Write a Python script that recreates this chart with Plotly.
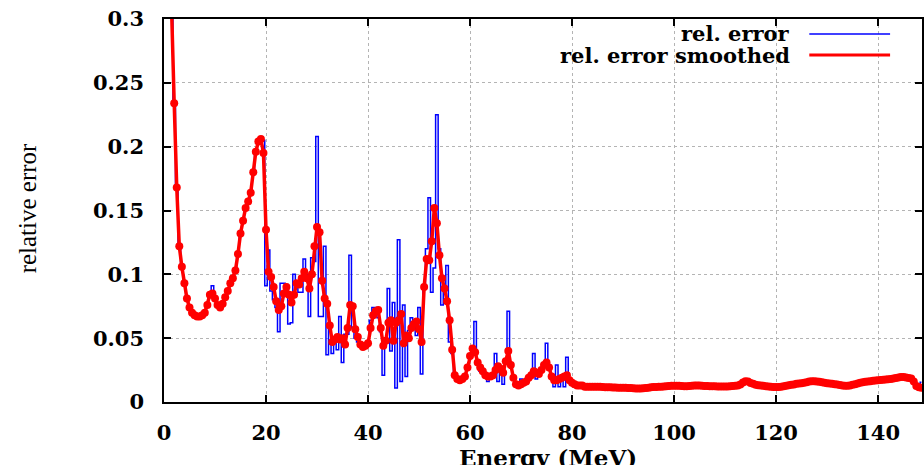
import numpy as np
import plotly.graph_objects as go

# Energy grid (MeV), bin centres every 0.5 MeV
energy = np.arange(0.5, 148.75, 0.5)

# relative error smoothed (red), per 10 MeV segment
red_000 = [0.45, 0.37, 0.31, 0.234, 0.168, 0.122, 0.106, 0.093, 0.081, 0.074,
           0.070, 0.068, 0.067, 0.067, 0.068, 0.070, 0.076, 0.084, 0.085, 0.081]
red_010 = [0.076, 0.074, 0.077, 0.082, 0.087, 0.093, 0.097, 0.103, 0.116, 0.132,
           0.142, 0.152, 0.157, 0.164, 0.180, 0.196, 0.204, 0.206, 0.195, 0.135]
red_020 = [0.102, 0.098, 0.090, 0.079, 0.072, 0.075, 0.085, 0.090, 0.084, 0.078,
           0.084, 0.093, 0.092, 0.097, 0.102, 0.097, 0.089, 0.100, 0.122, 0.137]
red_030 = [0.133, 0.095, 0.081, 0.077, 0.060, 0.047, 0.049, 0.051, 0.049, 0.050,
           0.045, 0.058, 0.076, 0.075, 0.057, 0.051, 0.045, 0.043, 0.044, 0.046]
red_040 = [0.058, 0.068, 0.071, 0.072, 0.058, 0.044, 0.048, 0.062, 0.064, 0.048,
           0.062, 0.064, 0.069, 0.046, 0.052, 0.050, 0.058, 0.061, 0.063, 0.057]
red_050 = [0.047, 0.090, 0.112, 0.111, 0.126, 0.152, 0.140, 0.115, 0.097, 0.089,
           0.079, 0.064, 0.041, 0.021, 0.018, 0.017, 0.018, 0.020, 0.027, 0.036]
red_060 = [0.042, 0.039, 0.031, 0.027, 0.024, 0.021, 0.020, 0.020, 0.021, 0.025,
           0.028, 0.026, 0.023, 0.032, 0.040, 0.029, 0.019, 0.014, 0.013, 0.014]
red_070 = [0.015, 0.016, 0.019, 0.021, 0.024, 0.023, 0.022, 0.025, 0.029, 0.031,
           0.027, 0.020, 0.017, 0.017, 0.018, 0.019, 0.020, 0.021, 0.017, 0.015]
red_080 = [0.014, 0.013, 0.013, 0.013, 0.012, 0.012, 0.012, 0.012, 0.012, 0.012,
           0.012, 0.0118, 0.0116, 0.0115, 0.0115, 0.0114, 0.0113, 0.0112, 0.0112, 0.0112]
red_090 = [0.0111, 0.0110, 0.0109, 0.0108, 0.0106, 0.0105, 0.0105, 0.0107, 0.0110, 0.0112,
           0.0115, 0.0117, 0.0118, 0.0119, 0.0120, 0.0122, 0.0124, 0.0126, 0.0127, 0.0128]
red_100 = [0.0128, 0.0127, 0.0125, 0.0123, 0.0123, 0.0125, 0.0128, 0.0130, 0.0130, 0.0129,
           0.0127, 0.0126, 0.0125, 0.0124, 0.0123, 0.0123, 0.0122, 0.0122, 0.0122, 0.0122]
red_110 = [0.0122, 0.0124, 0.0125, 0.0127, 0.0130, 0.0138, 0.0152, 0.0162, 0.0160, 0.0148,
           0.0142, 0.0136, 0.0132, 0.0130, 0.0127, 0.0124, 0.0122, 0.0120, 0.0118, 0.0118]
red_120 = [0.0118, 0.0120, 0.0124, 0.0128, 0.0132, 0.0135, 0.0138, 0.0142, 0.0144, 0.0146,
           0.0150, 0.0155, 0.0160, 0.0162, 0.0162, 0.0160, 0.0158, 0.0155, 0.0150, 0.0147]
red_130 = [0.0144, 0.0142, 0.0140, 0.0137, 0.0134, 0.0130, 0.0128, 0.0128, 0.0130, 0.0135,
           0.0140, 0.0145, 0.0150, 0.0155, 0.0158, 0.0160, 0.0163, 0.0166, 0.0168, 0.0170]
red_140 = [0.0172, 0.0174, 0.0176, 0.0178, 0.0180, 0.0184, 0.0188, 0.0192, 0.0196, 0.0196,
           0.0192, 0.0188, 0.0184, 0.0160, 0.0125, 0.0115, 0.0112]

# relative error (blue histogram) where it departs from the smoothed curve
blue_020 = [0.119, 0.087, 0.080, 0.074, 0.055, 0.093, 0.093, 0.092, 0.061, 0.062,
            0.100, 0.090, 0.086, 0.086, 0.112, 0.100, 0.067, 0.113, 0.110, 0.208]
blue_030 = [0.067, 0.067, 0.122, 0.037, 0.061, 0.038, 0.051, 0.041, 0.067, 0.031,
            0.053, 0.053, 0.115, 0.058, 0.050, 0.047, 0.044, 0.042, 0.044, 0.045]
blue_040 = [0.064, 0.074, 0.074, 0.066, 0.055, 0.021, 0.050, 0.089, 0.040, 0.078,
            0.011, 0.127, 0.016, 0.076, 0.020, 0.056, 0.066, 0.060, 0.052, 0.074]
blue_050 = [0.022, 0.090, 0.120, 0.160, 0.086, 0.105, 0.225, 0.120, 0.076, 0.090,
            0.107, 0.047, 0.038, 0.020, 0.018, 0.017, 0.018, 0.020, 0.027, 0.036]
blue_060 = [0.042, 0.063, 0.033, 0.024, 0.024, 0.020, 0.016, 0.018, 0.021, 0.038,
            0.016, 0.025, 0.014, 0.033, 0.071, 0.030, 0.018, 0.014, 0.014, 0.018]
blue_070 = [0.015, 0.016, 0.019, 0.021, 0.038, 0.018, 0.022, 0.025, 0.030, 0.046,
            0.026, 0.020, 0.012, 0.029, 0.012, 0.019, 0.012, 0.035, 0.017, 0.015]
blue_other = {9.5: 0.091, 19.0: 0.205, 19.5: 0.205, 20.0: 0.091,
              114.0: 0.018, 114.5: 0.018, 127.0: 0.017, 127.5: 0.017, 148.5: 0.0154}

x_ticks = [0, 20, 40, 60, 80, 100, 120, 140]
y_ticks = [0, 0.05, 0.1, 0.15, 0.2, 0.25, 0.3]
y_tick_text = ["0", "0.05", "0.1", "0.15", "0.2", "0.25", "0.3"]
series_names = ["rel. error", "rel. error smoothed"]

smoothed = (red_000 + red_010 + red_020 + red_030 + red_040 + red_050 + red_060
            + red_070 + red_080 + red_090 + red_100 + red_110 + red_120 + red_130 + red_140)
raw = list(red_000 + red_010) + blue_020 + blue_030 + blue_040 + blue_050 + blue_060 + blue_070 \
      + list(red_080 + red_090 + red_100 + red_110 + red_120 + red_130 + red_140)
for e, v in blue_other.items():
    raw[int(round(e / 0.5)) - 1] = v

BLUE = "#0000ff"
RED = "#ff0000"
TICKFONT = dict(family="DejaVu Serif", size=21, color="black", weight="bold")

fig = go.Figure()
fig.add_trace(go.Scatter(x=energy, y=raw, mode="lines", name=series_names[0],
                         line=dict(color=BLUE, width=1.5, shape="hvh"), showlegend=False))
fig.add_trace(go.Scatter(x=energy, y=smoothed, mode="lines+markers", name=series_names[1],
                         line=dict(color=RED, width=3.5),
                         marker=dict(color=RED, size=8, symbol="circle"), showlegend=False))

L, T, B, W, H = 164, 19, 63, 924, 465
pw = W - L
ph = H - T - B

def px_x(p):
    return (p - L) / pw

def px_y(p):
    return 1 - (p - T) / ph

axis_common = dict(showline=True, linecolor="black", linewidth=1.5, mirror="ticks",
                   ticks="inside", ticklen=7, tickwidth=1.5, tickcolor="black",
                   showgrid=True, gridcolor="#b4b4b4", griddash="dot", gridwidth=1,
                   zeroline=False, tickfont=TICKFONT)

fig.update_layout(
    width=W, height=H,
    margin=dict(l=L, r=0, t=T, b=B),
    paper_bgcolor="white", plot_bgcolor="white",
    xaxis=dict(range=[0, (W - L) / 5.114], tickvals=x_ticks, ticklabelstandoff=11, **axis_common),
    yaxis=dict(range=[0, 0.3], tickvals=y_ticks, ticktext=y_tick_text, ticklabelstandoff=14,
               **axis_common),
)

# axis titles
fig.add_annotation(text="Energy (MeV)", xref="paper", yref="paper", x=px_x(549), y=px_y(457),
                   xanchor="center", yanchor="middle", showarrow=False,
                   font=dict(family="DejaVu Serif", size=23, color="black", weight="bold"))
fig.add_annotation(text="relative error", xref="paper", yref="paper", x=px_x(27), y=px_y(208),
                   xanchor="center", yanchor="middle", textangle=-90, showarrow=False,
                   font=dict(family="Liberation Serif", size=25, color="black"))

# legend (text right-aligned, sample line on the right)
for name, color, width, ypix in [(series_names[0], BLUE, 1.5, 34), (series_names[1], RED, 3, 55)]:
    fig.add_annotation(text=name, xref="paper", yref="paper", x=px_x(794), y=px_y(ypix),
                       xanchor="right", yanchor="middle", showarrow=False,
                       font=dict(family="DejaVu Serif", size=21, color="black", weight="bold"))
    fig.add_shape(type="line", xref="paper", yref="paper", x0=px_x(811), x1=px_x(892),
                  y0=px_y(ypix), y1=px_y(ypix), line=dict(color=color, width=width))

fig.write_html("out.html", config={"displayModeBar": False},
               post_script="document.body.style.margin='0';")
